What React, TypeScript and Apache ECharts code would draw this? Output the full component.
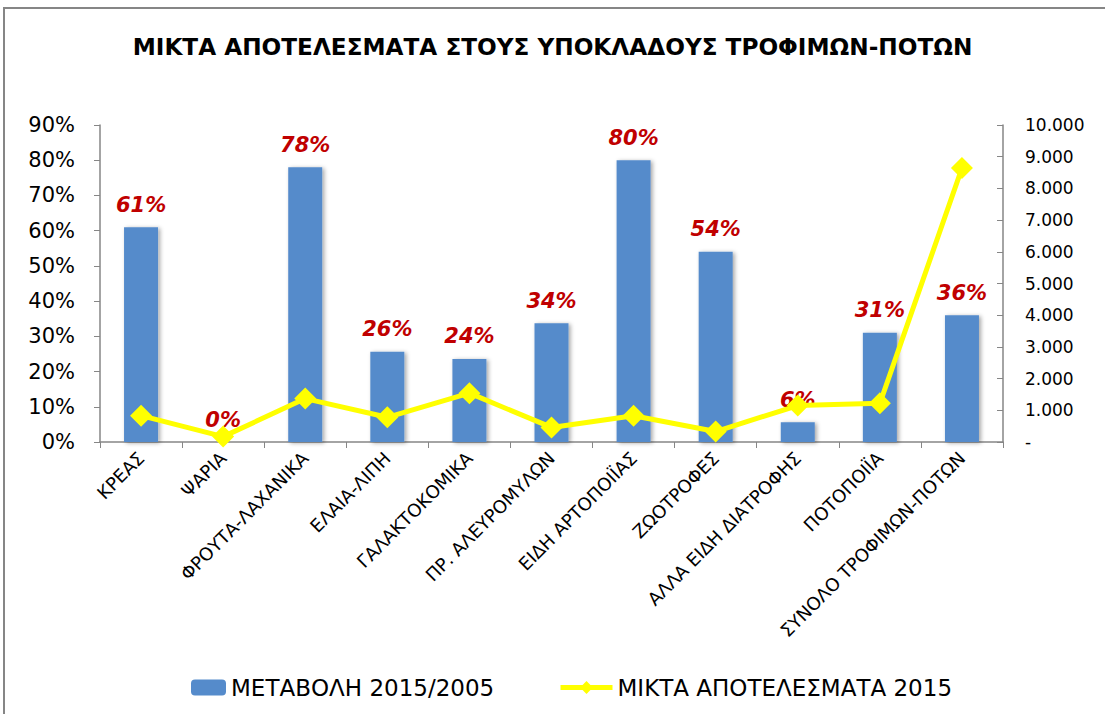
import React, { useEffect, useRef } from "react";
import * as echarts from "echarts";

const title = "ΜΙΚΤΑ ΑΠΟΤΕΛΕΣΜΑΤΑ ΣΤΟΥΣ ΥΠΟΚΛΑΔΟΥΣ ΤΡΟΦΙΜΩΝ-ΠΟΤΩΝ";
const categories = [
  "ΚΡΕΑΣ",
  "ΨΑΡΙΑ",
  "ΦΡΟΥΤΑ-ΛΑΧΑΝΙΚΑ",
  "ΕΛΑΙΑ-ΛΙΠΗ",
  "ΓΑΛΑΚΤΟΚΟΜΙΚΑ",
  "ΠΡ. ΑΛΕΥΡΟΜΥΛΩΝ",
  "ΕΙΔΗ ΑΡΤΟΠΟΙΪΑΣ",
  "ΖΩΟΤΡΟΦΕΣ",
  "ΑΛΛΑ ΕΙΔΗ ΔΙΑΤΡΟΦΗΣ",
  "ΠΟΤΟΠΟΙΪΑ",
  "ΣΥΝΟΛΟ ΤΡΟΦΙΜΩΝ-ΠΟΤΩΝ",
];
const barName = "ΜΕΤΑΒΟΛΗ 2015/2005";
const lineName = "ΜΙΚΤΑ ΑΠΟΤΕΛΕΣΜΑΤΑ 2015";
const changeValues = [0.61, 0.0, 0.78, 0.256, 0.236, 0.337, 0.8, 0.54, 0.056, 0.31, 0.36];
const resultValues = [830, 170, 1370, 780, 1540, 460, 830, 330, 1150, 1220, 8640];

const fmtThousands = (v: number) =>
  v === 0 ? "-" : String(Math.round(v)).replace(/\B(?=(\d{3})+(?!\d))/g, ".");

export default function App() {
  const ref = useRef<HTMLDivElement>(null);
  useEffect(() => {
    if (!ref.current) return;
    const chart = echarts.init(ref.current, undefined, { renderer: "svg" });
    const axisColor = "#868686";
    const font = "'DejaVu Sans', sans-serif";
    chart.setOption({
      animation: false,
      backgroundColor: "#ffffff",
      title: {
        text: title,
        left: "center",
        top: 30,
        textStyle: {
          fontFamily: font,
          fontWeight: "bold",
          fontSize: 23.2,
          color: "#000000",
        },
      },
      graphic: [
        {
          type: "rect",
          shape: { x: 4, y: 8, width: 1120, height: 730 },
          style: { fill: "none", stroke: axisColor, lineWidth: 2 },
          silent: true,
        },
      ],
      legend: [
        {
          data: [barName],
          left: 186,
          top: 671,
          itemWidth: 35,
          itemHeight: 16,
          textStyle: { fontFamily: font, fontSize: 23, color: "#000" },
        },
        {
          data: [lineName],
          left: 553,
          top: 671,
          itemWidth: 52,
          itemHeight: 16,
          lineStyle: { width: 5 },
          textStyle: { fontFamily: font, fontSize: 23, color: "#000" },
        },
      ],
      grid: { left: 100, right: 102, top: 125, bottom: 272, containLabel: false },
      xAxis: {
        type: "category",
        data: categories,
        boundaryGap: true,
        axisLine: { show: true, lineStyle: { color: axisColor, width: 1.5 } },
        axisTick: { show: true, alignWithLabel: false, length: 6, lineStyle: { color: axisColor } },
        axisLabel: {
          rotate: 45,
          interval: 0,
          margin: 13,
          fontFamily: font,
          fontSize: 18,
          color: "#000",
        },
      },
      yAxis: [
        {
          type: "value",
          min: 0,
          max: 0.9,
          interval: 0.1,
          splitLine: { show: false },
          axisLine: { show: true, lineStyle: { color: axisColor, width: 1.5 } },
          axisTick: { show: true, length: 6, lineStyle: { color: axisColor } },
          axisLabel: {
            margin: 25,
            fontFamily: font,
            fontSize: 21,
            color: "#000",
            formatter: (v: number) => Math.round(v * 100) + "%",
          },
        },
        {
          type: "value",
          min: 0,
          max: 10000,
          interval: 1000,
          splitLine: { show: false },
          axisLine: { show: true, lineStyle: { color: axisColor, width: 1.5 } },
          axisTick: { show: true, inside: true, length: 6, lineStyle: { color: axisColor } },
          axisLabel: {
            margin: 22,
            fontFamily: font,
            fontSize: 17,
            color: "#000",
            formatter: fmtThousands,
          },
        },
      ],
      series: [
        {
          name: barName,
          type: "bar",
          yAxisIndex: 0,
          data: changeValues,
          barWidth: 34,
          itemStyle: {
            color: "#558BCB",
            shadowColor: "rgba(0,0,0,0.35)",
            shadowBlur: 4,
            shadowOffsetX: 2,
            shadowOffsetY: 1,
          },
          label: {
            show: true,
            position: "top",
            distance: 12,
            fontFamily: font,
            fontWeight: "bold",
            fontStyle: "italic",
            fontSize: 21,
            color: "#C00000",
            formatter: (p: any) => Math.round(p.value * 100) + "%",
          },
          z: 2,
        },
        {
          name: lineName,
          type: "line",
          yAxisIndex: 1,
          data: resultValues,
          symbol: "diamond",
          symbolSize: 22,
          lineStyle: { color: "#FFFF00", width: 5 },
          itemStyle: { color: "#FFFF00" },
          label: { show: false },
          z: 3,
        },
      ],
    });
    return () => chart.dispose();
  }, []);
  return (
    <div
      ref={ref}
      style={{ position: "absolute", left: 0, top: 0, width: 1105, height: 714 }}
    />
  );
}
